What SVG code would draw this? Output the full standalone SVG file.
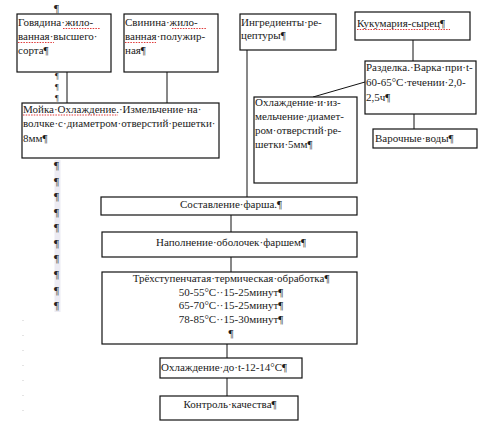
<svg xmlns="http://www.w3.org/2000/svg" width="486" height="439" viewBox="0 0 486 439">
<style>
.b{fill:#fff;stroke:#111;stroke-width:1.2}
.t{font-family:"Liberation Serif","Times New Roman",serif;font-size:11px;fill:#1a1a1a}
.c{text-anchor:middle}
.l{stroke:#111;stroke-width:1;fill:none}
.sp{stroke:#d22;stroke-width:0.9;stroke-dasharray:1.5 1.2;fill:none}
.p{font-family:"Liberation Serif","Times New Roman",serif;font-size:11px;fill:#222}
.ps{font-family:"Liberation Serif","Times New Roman",serif;font-size:8px;fill:#222}
</style>
<rect width="486" height="439" fill="#fff"/>
<g id="marks">
<rect x="54.5" y="160" width="6" height="152" fill="#ecebf3"/>
<text class="p" x="54" y="12">¶</text>
<text class="ps" x="55" y="79">¶</text>
<text class="ps" x="55" y="90">¶</text>
<text class="ps" x="55" y="101">¶</text>
<text class="p" x="54" y="169">¶</text>
<text class="p" x="54" y="185">¶</text>
<text class="p" x="54" y="200">¶</text>
<text class="p" x="54" y="216">¶</text>
<text class="p" x="54" y="231">¶</text>
<text class="p" x="54" y="247">¶</text>
<text class="p" x="54" y="262">¶</text>
<text class="p" x="54" y="278">¶</text>
<text class="p" x="54" y="294">¶</text>
<text class="p" x="54" y="309">¶</text>
<line x1="23" y1="320" x2="23" y2="425" stroke="#bbb" stroke-width="0.8" stroke-dasharray="1 14"/>
</g>
<g id="connectors">
<line class="l" x1="67" y1="66" x2="67" y2="103"/>
<line class="l" x1="167" y1="66" x2="167" y2="103"/>
<line class="l" x1="247" y1="50" x2="247" y2="197"/>
<line class="l" x1="413" y1="40" x2="413" y2="61"/>
<line class="l" x1="365" y1="82" x2="313" y2="97"/>
<line class="l" x1="414" y1="114" x2="414" y2="129"/>
<line class="l" x1="231" y1="215" x2="231" y2="232"/>
<line class="l" x1="231" y1="257" x2="231" y2="272"/>
<line class="l" x1="227" y1="344" x2="227" y2="358"/>
<line class="l" x1="227" y1="378" x2="227" y2="396"/>
</g>
<g id="n1">
<rect class="b" x="17" y="14" width="94" height="58"/>
<text class="t" x="18" y="26">Говядина·жило-</text>
<text class="t" x="18" y="40">ванная·высшего·</text>
<text class="t" x="18" y="54">сорта¶</text>
<path class="sp" d="M63 28.5H100M18 42.5H54"/>
</g>
<g id="n2">
<rect class="b" x="124" y="14" width="94" height="58"/>
<text class="t" x="125" y="26">Свинина·жило-</text>
<text class="t" x="125" y="40">ванная·полужир-</text>
<text class="t" x="125" y="54">ная¶</text>
<path class="sp" d="M172 28.5H206M125 42.5H156"/>
</g>
<g id="n3">
<rect class="b" x="22" y="103" width="197" height="55"/>
<text class="t" x="23" y="113">Мойка·Охлаждение.·Измельчение·на·</text>
<text class="t" x="23" y="127">волчке·с·диаметром·отверстий·решетки·</text>
<text class="t" x="23" y="142">8мм¶</text>
<path class="sp" d="M23 115H118"/>
</g>
<g id="n4">
<rect class="b" x="240" y="14" width="96" height="36"/>
<text class="t" x="241" y="26">Ингредиенты·ре-</text>
<text class="t" x="241" y="39">цептуры¶</text>
</g>
<g id="n5">
<rect class="b" x="355" y="12" width="115" height="28"/>
<text class="t" x="357" y="27">Кукумария-сырец¶</text>
<path class="sp" d="M357 29.5H450"/>
</g>
<g id="n6">
<rect class="b" x="365" y="61" width="111" height="53"/>
<text class="t" x="366" y="71">Разделка.·Варка·при·t-</text>
<text class="t" x="366" y="86">60-65°С·течении·2,0-</text>
<text class="t" x="366" y="101">2,5ч¶</text>
</g>
<g id="n7">
<rect class="b" x="254" y="97" width="103" height="86"/>
<text class="t" x="255" y="106">Охлаждение·и·из-</text>
<text class="t" x="255" y="120">мельчение·диамет-</text>
<text class="t" x="255" y="134">ром·отверстий·ре-</text>
<text class="t" x="255" y="148">шетки·5мм¶</text>
</g>
<g id="n8">
<rect class="b" x="373" y="129" width="104" height="19"/>
<text class="t" x="375" y="142">Варочные·воды¶</text>
</g>
<g id="n9">
<rect class="b" x="101" y="197" width="256" height="18"/>
<text class="t c" x="231" y="208">Составление·фарша.¶</text>
</g>
<g id="n10">
<rect class="b" x="102" y="232" width="255" height="25"/>
<text class="t c" x="231" y="246">Наполнение·оболочек·фаршем¶</text>
</g>
<g id="n11">
<rect class="b" x="102" y="272" width="255" height="72"/>
<text class="t c" x="231" y="282">Трёхступенчатая·термическая·обработка¶</text>
<text class="t c" x="231" y="296">50-55°С··15-25минут¶</text>
<text class="t c" x="231" y="309">65-70°С··15-25минут¶</text>
<text class="t c" x="231" y="323">78-85°С··15-30минут¶</text>
<text class="t c" x="231" y="337">¶</text>
</g>
<g id="n12">
<rect class="b" x="160" y="358" width="142" height="20"/>
<text class="t" x="161" y="371">Охлаждение·до·t-12-14°С¶</text>
</g>
<g id="n13">
<rect class="b" x="160" y="396" width="138" height="24"/>
<text class="t c" x="230" y="408">Контроль·качества¶</text>
</g>
</svg>
